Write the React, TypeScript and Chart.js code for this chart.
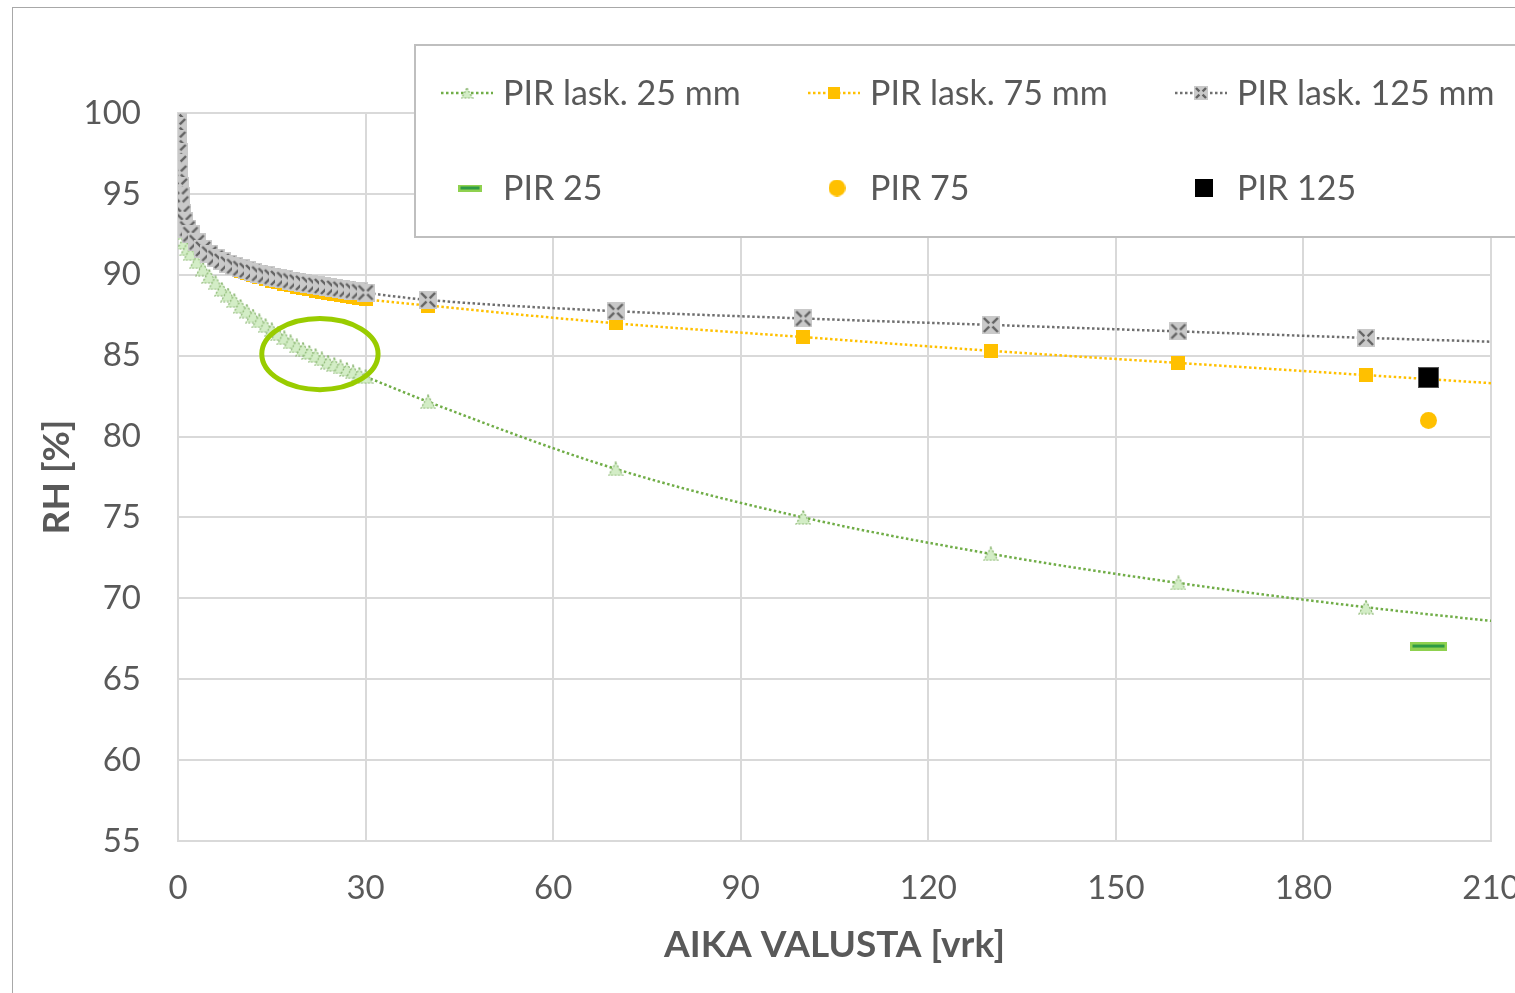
import React, { useEffect, useRef } from "react";
import { Chart, registerables } from "chart.js";

Chart.register(...registerables);

// ---------- data ----------
const DAYS = [
  0, 0.02, 0.05, 0.1, 0.15, 0.2, 0.3, 0.4, 0.5, 0.7, 1, 1.5, 2,
  3, 4, 5, 6, 7, 8, 9, 10, 11, 12, 13, 14, 15, 16, 17, 18, 19, 20,
  21, 22, 23, 24, 25, 26, 27, 28, 29, 30,
  40, 70, 100, 130, 160, 190, 220,
];

const PIR_CALC_25 = [
  100, 98.9, 97.9, 96.9, 96.1, 95.4, 94.5, 93.8, 93.3, 92.6, 92.0, 91.6, 91.3,
  90.8, 90.35, 89.9, 89.5, 89.1, 88.75, 88.4, 88.05, 87.75, 87.45, 87.15, 86.85, 86.6, 86.35, 86.1, 85.85, 85.6, 85.4,
  85.2, 85.0, 84.8, 84.6, 84.45, 84.3, 84.15, 84.0, 83.85, 83.7,
  82.15, 78.0, 75.0, 72.75, 70.95, 69.45, 68.2,
];

const PIR_CALC_75 = [
  100, 99.3, 98.5, 97.7, 97.0, 96.4, 95.6, 95.0, 94.5, 93.9, 93.4, 92.95, 92.6,
  92.1, 91.7, 91.35, 91.05, 90.8, 90.6, 90.4, 90.25, 90.1, 89.97, 89.85, 89.74, 89.63, 89.53, 89.43, 89.34, 89.25, 89.17,
  89.09, 89.01, 88.94, 88.87, 88.8, 88.74, 88.68, 88.62, 88.56, 88.5,
  88.1, 87.0, 86.15, 85.3, 84.55, 83.8, 83.05,
];

const PIR_CALC_125 = [
  100, 99.2, 98.4, 97.6, 96.9, 96.3, 95.5, 94.9, 94.4, 93.8, 93.3, 92.85, 92.5,
  92.0, 91.6, 91.3, 91.05, 90.85, 90.68, 90.53, 90.4, 90.28, 90.17, 90.07, 89.97, 89.88, 89.8, 89.72, 89.64, 89.57, 89.5,
  89.43, 89.37, 89.31, 89.25, 89.19, 89.13, 89.08, 89.02, 88.97, 88.9,
  88.45, 87.75, 87.3, 86.9, 86.5, 86.1, 85.75,
];

const MEASURED_DAY = [200];
const PIR_25 = [67.05];
const PIR_75 = [81.0];
const PIR_125 = [83.65];

const LEGEND_LABELS = [
  "PIR lask. 25 mm",
  "PIR lask. 75 mm",
  "PIR lask. 125 mm",
  "PIR 25",
  "PIR 75",
  "PIR 125",
];

const X_TITLE = "AIKA VALUSTA [vrk]";
const Y_TITLE = "RH [%]";
const X_MIN = 0, X_MAX = 210, X_STEP = 30;
const Y_MIN = 55, Y_MAX = 100, Y_STEP = 5;

// highlight ellipse (data coordinates)
const ELLIPSE = { x: 22.7, y: 85.1, rx: 9.3, ry: 2.2 };

// ---------- styling ----------
const FONT = 'Lato, "Open Sans", "Liberation Sans", sans-serif';
const TEXT = "#595959";
const GRID = "#d9d9d9";
const GREEN = "#70AD47";
const ORANGE = "#FFC000";
const GRAY_LINE = "#6f6f6f";

function makeCanvas(w: number, h: number, draw: (g: CanvasRenderingContext2D) => void) {
  const c = document.createElement("canvas");
  c.width = w;
  c.height = h;
  const g = c.getContext("2d")!;
  draw(g);
  return c;
}

function triangle(w: number, h: number) {
  return makeCanvas(w, h, (g) => {
    g.beginPath();
    g.moveTo(w / 2, 1);
    g.lineTo(w - 1, h - 1);
    g.lineTo(1, h - 1);
    g.closePath();
    g.fillStyle = "#d3edc6";
    g.fill();
    g.setLineDash([2, 1.5]);
    g.lineWidth = 1.2;
    g.strokeStyle = "#86b36c";
    g.stroke();
  });
}

function square(s: number, fill: string, stroke?: string) {
  return makeCanvas(s, s, (g) => {
    g.fillStyle = fill;
    g.fillRect(0, 0, s, s);
    if (stroke) {
      g.strokeStyle = stroke;
      g.lineWidth = 1;
      g.strokeRect(0.5, 0.5, s - 1, s - 1);
    }
  });
}

function xBox(s: number) {
  return makeCanvas(s, s, (g) => {
    g.fillStyle = "#c9c9c9";
    g.fillRect(0, 0, s, s);
    g.strokeStyle = "#636363";
    g.lineWidth = 2.4;
    const m = s / 2;
    const gap = 1.6;
    const e = 2;
    g.beginPath();
    g.moveTo(e, e); g.lineTo(m - gap, m - gap);
    g.moveTo(s - e, e); g.lineTo(m + gap, m - gap);
    g.moveTo(e, s - e); g.lineTo(m - gap, m + gap);
    g.moveTo(s - e, s - e); g.lineTo(m + gap, m + gap);
    g.stroke();
  });
}

function dash(w: number, h: number) {
  return makeCanvas(w, h, (g) => {
    g.fillStyle = "#8fd14f";
    g.fillRect(0, 0, w, h);
    g.fillStyle = "#2f9a45";
    g.fillRect(2.5, h / 2 - 1.5, w - 5, 3);
  });
}

function circle(d: number, fill: string) {
  return makeCanvas(d, d, (g) => {
    g.beginPath();
    g.arc(d / 2, d / 2, d / 2, 0, Math.PI * 2);
    g.fillStyle = fill;
    g.fill();
  });
}

export default function App() {
  const ref = useRef<HTMLCanvasElement>(null);

  useEffect(() => {
    const canvas = ref.current!;
    const mk = {
      tri: triangle(16, 15),
      sq: square(14, ORANGE),
      xb: xBox(18),
      dash: dash(37, 9),
      circ: circle(17, ORANGE),
      black: square(21, "#000", "#555"),
    };
    const lg = {
      tri: triangle(13, 12),
      sq: square(12, ORANGE),
      xb: xBox(14),
      dash: dash(24, 7),
      circ: circle(17, ORANGE),
      black: square(18, "#000"),
    };

    const pts = (xs: number[], ys: number[]) => xs.map((x, i) => ({ x, y: ys[i] }));

    const lineDs = (label: string, ys: number[], color: string, marker: HTMLCanvasElement, order: number) => ({
      label,
      data: pts(DAYS, ys),
      showLine: true,
      borderColor: color,
      backgroundColor: color,
      borderWidth: 2.5,
      borderDash: [2.5, 2.5],
      cubicInterpolationMode: "monotone",
      pointStyle: marker,
      pointRadius: 8,
      pointHoverRadius: 8,
      order,
    });

    const markerDs = (label: string, ys: number[], marker: HTMLCanvasElement) => ({
      label,
      data: pts(MEASURED_DAY, ys),
      showLine: false,
      pointStyle: marker,
      pointRadius: 10,
      pointHoverRadius: 10,
      order: 0,
    });

    const ellipsePlugin = {
      id: "ellipseMark",
      afterDatasetsDraw(chart: any) {
        const { ctx, scales } = chart;
        const x = scales.x, y = scales.y;
        const cx = x.getPixelForValue(ELLIPSE.x);
        const cy = y.getPixelForValue(ELLIPSE.y);
        const rx = Math.abs(x.getPixelForValue(ELLIPSE.x + ELLIPSE.rx) - cx);
        const ry = Math.abs(y.getPixelForValue(ELLIPSE.y + ELLIPSE.ry) - cy);
        ctx.save();
        ctx.beginPath();
        ctx.ellipse(cx, cy, rx, ry, 0, 0, Math.PI * 2);
        ctx.lineWidth = 5;
        ctx.strokeStyle = "#99CC00";
        ctx.stroke();
        ctx.restore();
      },
    };

    const legendPlugin = {
      id: "boxLegend",
      afterDraw(chart: any) {
        const ctx: CanvasRenderingContext2D = chart.ctx;
        ctx.save();
        const bx = 415, by = 45, bw = 1300, bh = 192;
        ctx.fillStyle = "#fff";
        ctx.fillRect(bx, by, bw, bh);
        ctx.strokeStyle = "#bfbfbf";
        ctx.lineWidth = 2;
        ctx.strokeRect(bx, by, bw, bh);

        const colX = [441, 808, 1175];
        const rowY = [93, 188];
        const lineColors = [GREEN, ORANGE, GRAY_LINE];
        const lineMarkers = [lg.tri, lg.sq, lg.xb];
        const ptMarkers = [lg.dash, lg.circ, lg.black];
        ctx.font = `34px ${FONT}`;
        ctx.textBaseline = "middle";
        ctx.textAlign = "left";
        for (let i = 0; i < 3; i++) {
          const x0 = colX[i];
          const y0 = rowY[0];
          ctx.beginPath();
          ctx.setLineDash([2.5, 2.5]);
          ctx.lineWidth = 2.5;
          ctx.strokeStyle = lineColors[i];
          ctx.moveTo(x0, y0);
          ctx.lineTo(x0 + 52, y0);
          ctx.stroke();
          ctx.setLineDash([]);
          const m = lineMarkers[i];
          ctx.drawImage(m, x0 + 26 - m.width / 2, y0 - m.height / 2);
          ctx.fillStyle = TEXT;
          ctx.fillText(LEGEND_LABELS[i], x0 + 62, y0 + 1);

          const y1 = rowY[1];
          const p = ptMarkers[i];
          ctx.drawImage(p, x0 + 29 - p.width / 2, y1 - p.height / 2);
          ctx.fillStyle = TEXT;
          ctx.fillText(LEGEND_LABELS[3 + i], x0 + 62, y1 + 1);
        }
        ctx.restore();
      },
    };

    const chart = new Chart(canvas, {
      type: "scatter",
      data: {
        datasets: [
          lineDs(LEGEND_LABELS[0], PIR_CALC_25, GREEN, mk.tri, 3),
          lineDs(LEGEND_LABELS[1], PIR_CALC_75, ORANGE, mk.sq, 2),
          lineDs(LEGEND_LABELS[2], PIR_CALC_125, GRAY_LINE, mk.xb, 1),
          markerDs(LEGEND_LABELS[3], PIR_25, mk.dash),
          markerDs(LEGEND_LABELS[4], PIR_75, mk.circ),
          markerDs(LEGEND_LABELS[5], PIR_125, mk.black),
        ] as any,
      },
      options: {
        responsive: false,
        animation: false,
        events: [],
        layout: { padding: { left: 0, top: 113, right: 69, bottom: 0 } },
        plugins: { legend: { display: false }, tooltip: { enabled: false }, title: { display: false } },
        scales: {
          x: {
            type: "linear",
            min: X_MIN,
            max: X_MAX,
            afterFit: (s: any) => { s.height = 152; },
            ticks: { stepSize: X_STEP, color: TEXT, font: { size: 33, family: FONT }, padding: 28, maxRotation: 0 },
            grid: { color: GRID, lineWidth: 2, drawTicks: false },
            border: { color: GRID, width: 2 },
            title: {
              display: true,
              text: X_TITLE,
              color: TEXT,
              font: { size: 37, weight: "bold", family: FONT },
              padding: { top: 0, bottom: 26 },
            },
          },
          y: {
            type: "linear",
            min: Y_MIN,
            max: Y_MAX,
            afterFit: (s: any) => { s.width = 178; },
            ticks: { stepSize: Y_STEP, color: TEXT, font: { size: 33, family: FONT }, padding: 37 },
            grid: { color: GRID, lineWidth: 2, drawTicks: false },
            border: { color: GRID, width: 2 },
            title: {
              display: true,
              text: Y_TITLE,
              color: TEXT,
              font: { size: 37, weight: "bold", family: FONT },
              padding: { top: 35, bottom: 0 },
            },
          },
        },
      } as any,
      plugins: [ellipsePlugin, legendPlugin],
    });
    return () => chart.destroy();
  }, []);

  return (
    <div style={{ position: "fixed", left: 0, top: 0, width: 1515, height: 993, overflow: "hidden", background: "#fff" }}>
      <div style={{ position: "absolute", left: 12, top: 7, width: 1700, height: 1700, border: "1.5px solid #a8a8a8", boxSizing: "border-box" }} />
      <canvas ref={ref} width={1560} height={993} style={{ position: "absolute", left: 0, top: 0, width: 1560, height: 993 }} />
    </div>
  );
}
